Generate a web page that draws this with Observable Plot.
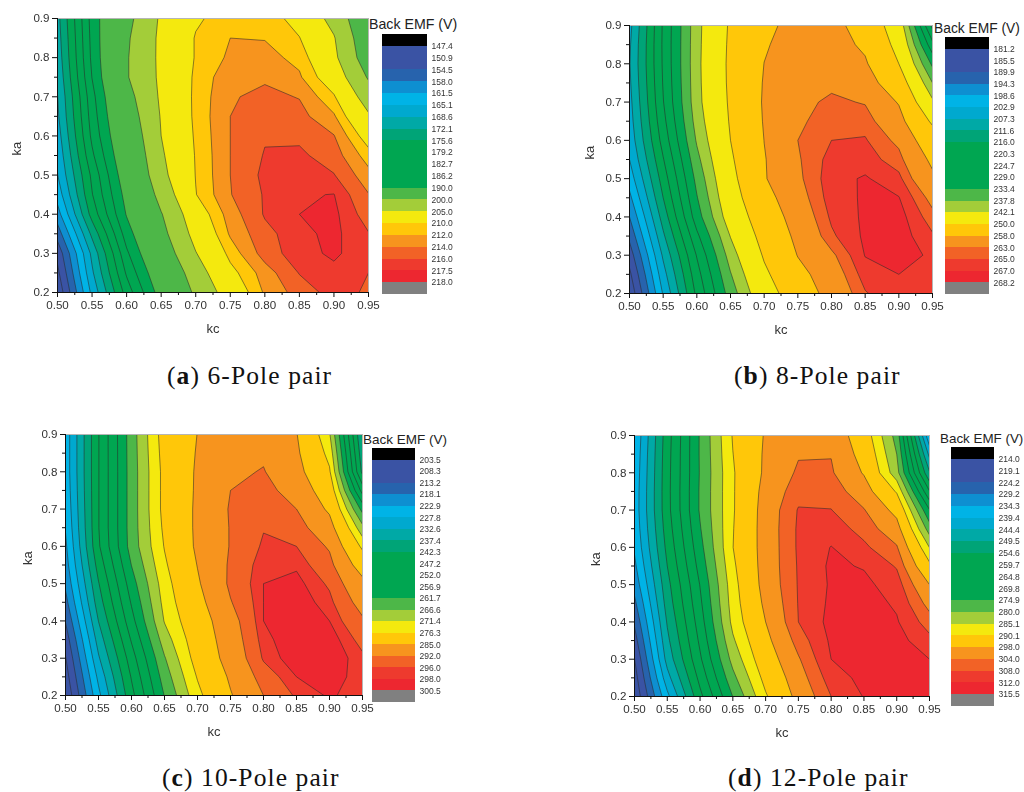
<!DOCTYPE html>
<html><head><meta charset="utf-8">
<script src="https://cdn.jsdelivr.net/npm/d3@7"></script>
<script src="https://cdn.jsdelivr.net/npm/@observablehq/plot@0.6"></script>
<style>
html,body{margin:0;padding:0;background:#fff}
#page{position:relative;width:1024px;height:792px;overflow:hidden}
#page svg{filter:blur(0.35px)}
.ttl{position:absolute;font-family:"Liberation Sans",Arial,sans-serif;color:#222;white-space:nowrap;line-height:16px}
.cap{position:absolute;font:25.5px "Liberation Serif",serif;letter-spacing:1.1px;color:#111;white-space:nowrap;line-height:30px}
</style></head><body><div id="page"></div>
<script>
// Grid axes
const kcValues = [0.50,0.55,0.60,0.65,0.70,0.75,0.80,0.85,0.90,0.95];
const kaValues = [0.20,0.25,0.30,0.35,0.40,0.45,0.50,0.55,0.60,0.65,0.70,0.75,0.80,0.85,0.90];
const xMajor = [0.50,0.55,0.60,0.65,0.70,0.75,0.80,0.85,0.90,0.95];
const xMinor = [0.525,0.575,0.625,0.675,0.725,0.775,0.825,0.875,0.925];
const yMajor = [0.2,0.3,0.4,0.5,0.6,0.7,0.8,0.9];
const yMinor = [0.25,0.35,0.45,0.55,0.65,0.75,0.85];

// Colour bands: black, 20 intervals, grey
const bandColors = ["#000000","#3A53A4","#3A53A4","#2763AD","#0E8FD1","#00B3E6","#00A9CF","#00A9A6","#00A477","#00A651","#00A651","#00A651","#00A651","#4DB748","#A3CD39","#F4E90E","#FFC709","#F7941E","#F26226","#EE3A2E","#ED2730","#808080"];

// Legend thresholds per panel
const levelsA = [147.4,150.9,154.5,158.0,161.5,165.1,168.6,172.1,175.6,179.2,182.7,186.2,190.0,200.0,205.0,210.0,212.0,214.0,216.0,217.5,218.0];
const levelsB = [181.2,185.5,189.9,194.3,198.6,202.9,207.3,211.6,216.0,220.3,224.7,229.0,233.4,237.8,242.1,250.0,258.0,263.0,265.0,267.0,268.2];
const levelsC = [203.5,208.3,213.2,218.1,222.9,227.8,232.6,237.4,242.3,247.2,252.0,256.9,261.7,266.6,271.4,276.3,285.0,292.0,296.0,298.0,300.5];
const levelsD = [214.0,219.1,224.2,229.2,234.3,239.4,244.4,249.5,254.6,259.7,264.8,269.8,274.9,280.0,285.1,290.1,298.0,304.0,308.0,312.0,315.5];

// Back EMF: one row per ka (0.20 up to 0.90), one column per kc
const emfA = [
148,166,180.7,192,201,207.4,212.3,214.9,216.8,215.7,
150,168,183.2,194.1,202.8,209.1,213,216.1,217.2,216,
152,169.5,185.5,196.7,204.8,210.8,214.9,217.1,217.7,216.8,
156,173,188,198.4,206.6,212.3,215.4,217.1,217.9,216.1,
160,177,190.3,199.7,208.1,213,216.2,217.5,217.9,215.1,
163,179,191.6,201.9,209.9,213.9,216.2,217.35,217.55,214.1,
165,180,193.2,203.7,210.1,214,216.5,217,216.1,212.7,
166,182,194.5,204.4,210.2,214,216.15,216.4,215,211,
167,183.5,195.7,205,210.4,214,215.8,215.6,214.1,208.5,
168,184.3,197,205.3,210.6,214,215,214.7,212.3,205.6,
168.5,185,198.2,205.7,210.6,213.8,214.5,213.9,210.3,202.6,
169.3,186.3,199.6,205.9,210.5,213.4,213.7,212.3,207.9,199.5,
170,187,199.6,206,210.2,212.4,212.7,211.4,206,197,
170.5,187.3,199.3,206,210.2,212,211.9,210.1,205.3,196,
171,187.6,198.5,205.7,209.6,211.2,211.5,208.8,203.5,195];
const emfB = [
182,203.3,221.3,235.5,246.5,254.4,260.1,264.8,266.7,265.7,
184.5,205.6,223,237.5,248.7,256.2,261.1,266,267,266.2,
187.5,208,225,239.8,250.7,258.2,262.4,267.1,268,266.6,
191,210.8,228,242.3,252.6,259.4,264.6,267.4,268.1,265.3,
194.3,213.5,231.3,245.1,254.2,260.6,265.4,267.4,267.9,263.8,
197.5,216,233.1,246.8,256,261.6,266,267.3,267.1,262,
200.5,218,234.7,248,257.6,262.4,266.2,267.25,265.6,259,
202.9,220,236.5,249.1,257.7,262.7,265.8,266,263.9,256.9,
204.5,222,238.3,250,258.05,263,265,265.2,262.3,253.9,
205.4,223.4,239.6,250.6,258.4,262.6,264,264.2,260,248.9,
206,224.5,240.5,251,258.6,262.2,263.5,262.8,257.6,243,
206.6,225,240.7,251.3,258.4,261.5,262.4,260.6,254,237.8,
207,225.3,240.8,251.4,258.05,260.8,261,258.7,250,232.5,
206.7,225.4,240.7,251.2,257.5,260.3,260.4,257,247.8,226,
206,225.3,240.6,250.9,256.6,260,259.8,255.5,245.7,219];
const emfC = [
204,226.5,245.7,261.9,274.7,284.5,292,296.5,298.3,297,
206,229,247.6,264,276.7,286,294.2,298,299.3,296.8,
208,232,249.8,266.2,278.8,288,296.4,299.5,299.8,296.6,
210.5,234.7,252.5,269,280,288.9,297.3,299.6,299.3,294.9,
213.5,237.5,255.2,271.7,281.2,289.8,298,299.7,298,292.7,
216.5,240,257.4,273,282.8,291.7,298,299.5,296.8,290,
219,242,259.5,274,284.2,293,298,298.8,295.5,287,
220.8,244.3,261.8,275.4,285.2,292.8,297.5,297.6,293.5,281.5,
222,246.5,263.8,276.6,286.2,292.3,296.5,296,291.4,275,
223.2,247,264,277.4,286.3,292.3,295.8,294.2,287.8,268,
224,247,264,278,286.2,292.5,295,292,283.8,260,
224.6,247,264,278,286,292,293.6,289.8,280.5,250,
225,247,264,278,285.9,291,292.3,287.5,277,241,
225,247,264.1,278.5,285.5,290,291.2,286.2,274.5,239,
225,247,264.2,279,285.1,288.5,290,285.3,271.9,237];
const emfD = [
215,238,258.3,275,289.4,300,308,312.2,313.5,314,
216.8,242.5,261.3,278.5,292,301.7,310,313.2,314,313,
219,246.3,264,281.7,294.4,303.5,312,314,314.5,312,
222,248.3,265.8,284.3,296.3,305.8,312.7,314.2,313.6,309.2,
225,250,267.4,286.5,298,308,313.3,314.5,312.4,306,
228,251.7,268.8,287.4,299.4,308.2,312.8,313.8,311.4,302.3,
231,253,270,288,300.5,308.3,312.5,313,310,298,
233.2,254.6,271.7,289,300.8,308.4,312.7,311.7,307.6,291.5,
235,256,273.2,290,300.8,308.6,312.15,308.8,304.5,285,
236,257.1,274.5,289.8,300.9,308.6,310,306.6,300.5,277.5,
236.5,258,275.5,289.5,300.8,308.3,308.1,304.3,296,270,
236.4,258.1,275.5,289.5,300.2,306.5,306.5,301,289.5,260,
236,258,275.3,289.5,299.2,304.8,304.6,297.5,282,250,
235.6,257.8,275.4,290,299,303.6,303.8,295.5,280,243,
235,257.5,275.4,290.5,298.6,302.5,302.8,293.6,278,235];

const panels = [
 {emf:emfA, levels:levelsA, px:57,  pw:311, py:18,  ph:274, lx:382, lw:45, ly:34,  lh:260, tx:369, ty:16,  tf:14.2, offY:41, cap:["a","6-Pole pair"], capX:167, capY:361},
 {emf:emfB, levels:levelsB, px:629, pw:303, py:25,  ph:268, lx:945, lw:44, ly:37,  lh:257, tx:934, ty:21,  tf:13.8, offY:40, cap:["b","8-Pole pair"], capX:734, capY:361},
 {emf:emfC, levels:levelsC, px:65,  pw:297, py:434, ph:261, lx:372, lw:43, ly:448, lh:254, tx:363, ty:432, tf:13.5, offY:38, cap:["c","10-Pole pair"], capX:162, capY:763},
 {emf:emfD, levels:levelsD, px:634, pw:295, py:435, ph:261, lx:951, lw:43, ly:447, lh:259, tx:940, ty:431, tf:13.4, offY:39, cap:["d","12-Pole pair"], capX:728, capY:763}
];

const page = document.getElementById("page");
const place = (el,l,t)=>{el.style.position="absolute";el.style.left=l+"px";el.style.top=t+"px";el.style.maxWidth="none";page.appendChild(el);};
const ML=50, MR=14, MT=8, MB=46;
const dx=0.05, dy=0.05;

for (const p of panels) {
  const chart = Plot.plot({
    width:p.pw+ML+MR, height:p.ph+MT+MB,
    marginLeft:ML, marginRight:MR, marginTop:MT, marginBottom:MB,
    style:{fontFamily:"'Liberation Sans',Arial,sans-serif",fontSize:"11.6px",color:"#333",background:"transparent",overflow:"visible"},
    x:{domain:[kcValues[0],kcValues[kcValues.length-1]]},
    y:{domain:[kaValues[0],kaValues[kaValues.length-1]]},
    color:{type:"threshold",domain:p.levels,range:bandColors},
    marks:[
      Plot.contour(p.emf,{
        width:kcValues.length,height:kaValues.length,
        x1:kcValues[0]-dx/2,x2:kcValues[kcValues.length-1]+dx/2,
        y1:kaValues[0]-dy/2,y2:kaValues[kaValues.length-1]+dy/2,
        fill:Plot.identity,thresholds:p.levels,
        stroke:"#2a2a2a",strokeWidth:0.65,strokeOpacity:0.85,clip:true
      }),
      Plot.frame({stroke:"#b5b5b5",strokeWidth:1}),
      Plot.ruleY([kaValues[0]],{stroke:"#111"}),
      Plot.ruleX([kcValues[0]],{stroke:"#111"}),
      Plot.axisX({ticks:xMinor,tickSize:3,text:null,label:null,stroke:"#111"}),
      Plot.axisY({ticks:yMinor,tickSize:3,text:null,label:null,stroke:"#111"}),
      Plot.axisX({ticks:xMajor,tickSize:5,tickPadding:3,tickFormat:d3.format(".2f"),label:null,stroke:"#111"}),
      Plot.axisY({ticks:yMajor,tickSize:5,tickPadding:3,tickFormat:d3.format(".1f"),label:null,stroke:"#111"}),
      Plot.text(["kc"],{frameAnchor:"bottom",dy:36,fontSize:13,fill:"#333",lineAnchor:"middle"}),
      Plot.text(["ka"],{frameAnchor:"left",dx:-p.offY,rotate:-90,fontSize:13,fill:"#333",lineAnchor:"middle"})
    ]
  });
  place(chart,p.px-ML,p.py-MT);

  // Colour legend: 22 stacked boxes, labels on the box boundaries
  const boxes = bandColors.map((c,i)=>({i,c}));
  const ticks = p.levels.map((v,i)=>({pos:i+1,label:v.toFixed(1)}));
  const legend = Plot.plot({
    width:p.lw+34,height:p.lh+4,
    marginLeft:0,marginRight:34,marginTop:2,marginBottom:2,
    style:{fontFamily:"'Liberation Sans',Arial,sans-serif",fontSize:"8.5px",color:"#333",background:"transparent",overflow:"visible"},
    x:{domain:[0,1],axis:null},
    y:{domain:[bandColors.length,0],axis:null},
    marks:[
      Plot.rect(boxes,{x1:0,x2:1,y1:"i",y2:d=>d.i+1,fill:"c",shapeRendering:"crispEdges"}),
      Plot.text(ticks,{x:1,y:"pos",text:"label",textAnchor:"start",dx:4,fill:"#333",fontSize:8.5})
    ]
  });
  place(legend,p.lx,p.ly-2);

  const t=document.createElement("div");t.className="ttl";t.textContent="Back EMF (V)";t.style.fontSize=p.tf+"px";t.style.left=p.tx+"px";t.style.top=p.ty+"px";page.appendChild(t);
  const c=document.createElement("div");c.className="cap";c.innerHTML="(<b>"+p.cap[0]+"</b>) "+p.cap[1];c.style.left=p.capX+"px";c.style.top=p.capY+"px";page.appendChild(c);
}
</script></body></html>
